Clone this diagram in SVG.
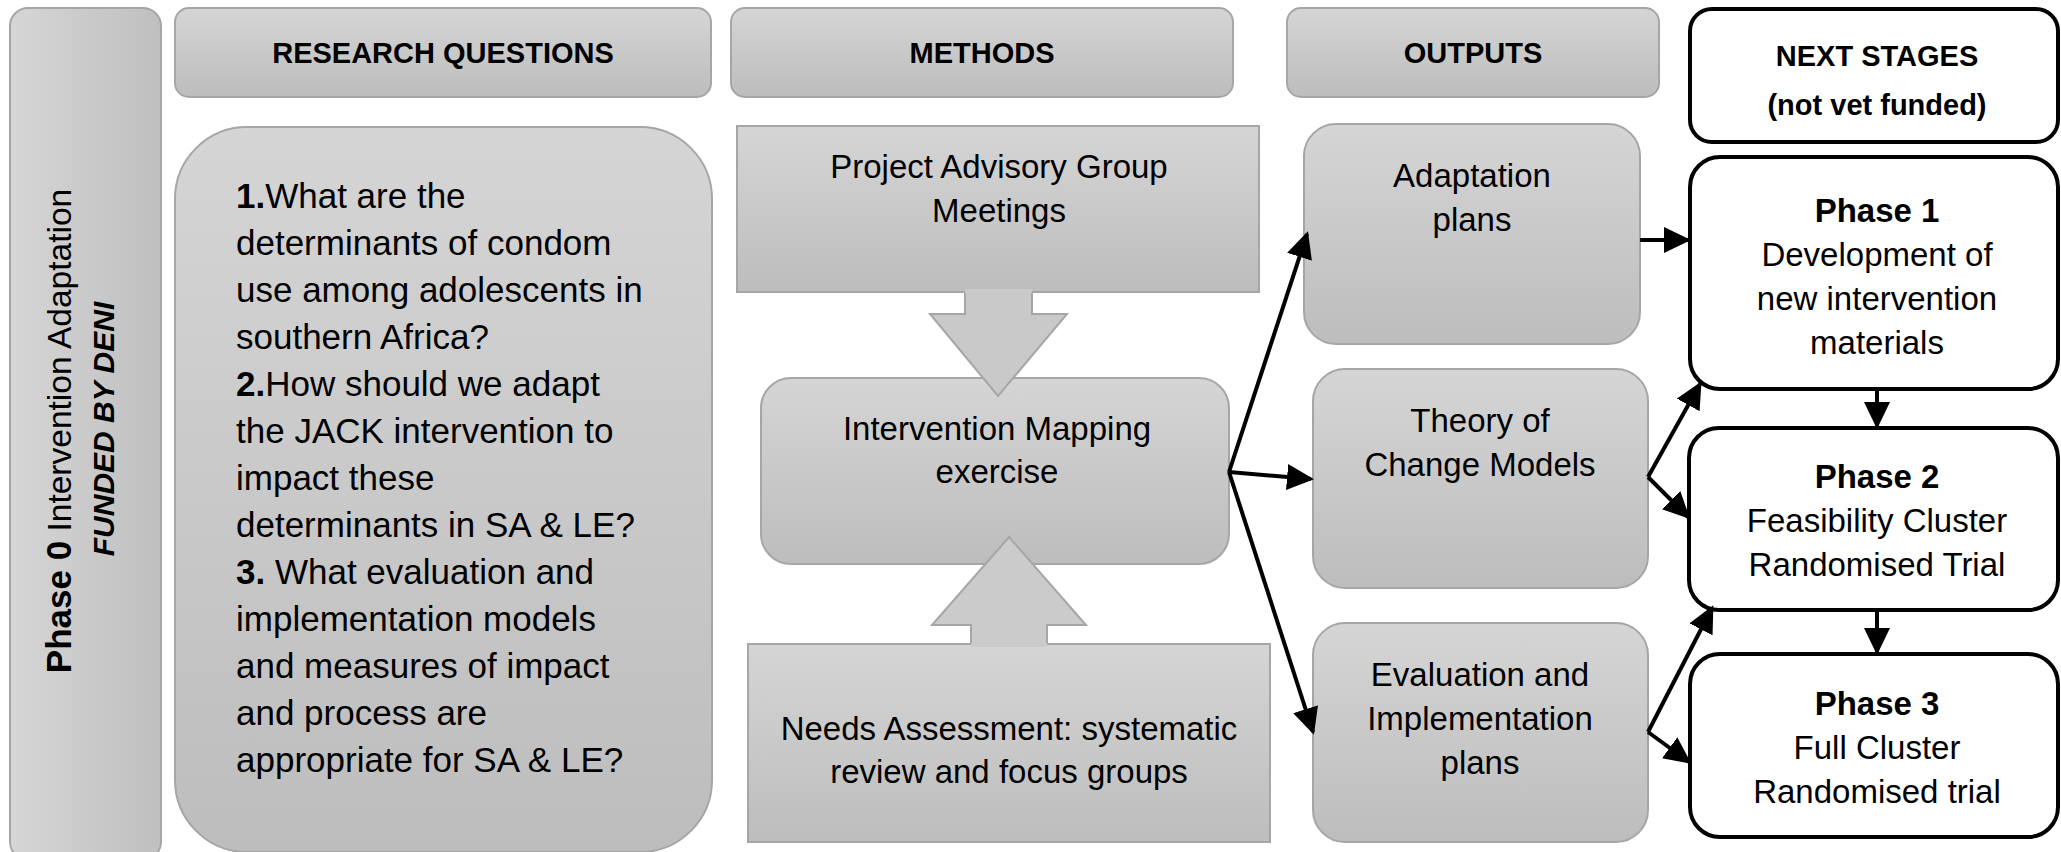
<svg xmlns="http://www.w3.org/2000/svg" width="2061" height="852" viewBox="0 0 2061 852">
<defs>
<linearGradient id="gV" x1="0" y1="0" x2="0" y2="1">
<stop offset="0" stop-color="#d5d5d5"/>
<stop offset="1" stop-color="#bdbdbd"/>
</linearGradient>
<linearGradient id="gH" x1="0" y1="0" x2="1" y2="0">
<stop offset="0" stop-color="#d6d6d6"/>
<stop offset="1" stop-color="#bfbfbf"/>
</linearGradient>
<marker id="ah" markerUnits="userSpaceOnUse" markerWidth="27" markerHeight="26" refX="24" refY="13" orient="auto">
<path d="M0,0 L27,13 L0,26 z" fill="#000"/>
</marker>
<style>
.g{fill:url(#gV);stroke:#a6a6a6;stroke-width:2}
.w{fill:#fff;stroke:#000;stroke-width:4}
.t{font-family:"Liberation Sans",Arial,sans-serif;font-size:33px;fill:#000;text-anchor:middle}
.h{font-family:"Liberation Sans",Arial,sans-serif;font-size:29px;font-weight:bold;fill:#000;text-anchor:middle}
.q{font-family:"Liberation Sans",Arial,sans-serif;font-size:35px;fill:#000}
.b{font-weight:bold}
.c{fill:none;stroke:#000;stroke-width:4;marker-end:url(#ah)}
</style>
</defs>
<rect width="2061" height="852" fill="#fff"/>

<g id="phase0">
<rect x="10" y="8" width="151" height="852" rx="18" fill="url(#gH)" stroke="#a6a6a6" stroke-width="2"/>
<text class="q" style="font-size:33.5px" transform="translate(71,431) rotate(-90)" text-anchor="middle"><tspan class="b" style="font-size:35px">Phase 0</tspan> Intervention Adaptation</text>
<text class="q" style="font-size:30px" transform="translate(114,429) rotate(-90)" text-anchor="middle" font-weight="bold" font-style="italic">FUNDED BY DENI</text>
</g>

<g id="hdr-rq">
<rect class="g" x="175" y="8" width="536" height="89" rx="14"/>
<text class="h" x="443" y="63">RESEARCH QUESTIONS</text>
</g>
<g id="hdr-methods">
<rect class="g" x="731" y="8" width="502" height="89" rx="14"/>
<text class="h" x="982" y="63">METHODS</text>
</g>
<g id="hdr-outputs">
<rect class="g" x="1287" y="8" width="372" height="89" rx="14"/>
<text class="h" x="1473" y="63">OUTPUTS</text>
</g>
<g id="hdr-next">
<rect class="w" x="1690" y="9" width="368" height="133" rx="22"/>
<text class="h" x="1877" y="66">NEXT STAGES</text>
<text class="h" x="1877" y="115">(not vet funded)</text>
</g>

<g id="rq">
<rect class="g" x="175" y="127" width="537" height="725" rx="72"/>
<text class="q" x="236"><tspan x="236" y="208"><tspan class="b">1.</tspan>What are the</tspan><tspan x="236" y="255">determinants of condom</tspan><tspan x="236" y="302">use among adolescents in</tspan><tspan x="236" y="349">southern Africa?</tspan><tspan x="236" y="396"><tspan class="b">2.</tspan>How should we adapt</tspan><tspan x="236" y="443">the JACK intervention to</tspan><tspan x="236" y="490">impact these</tspan><tspan x="236" y="537">determinants in SA &amp; LE?</tspan><tspan x="236" y="584"><tspan class="b">3.</tspan> What evaluation and</tspan><tspan x="236" y="631">implementation models</tspan><tspan x="236" y="678">and measures of impact</tspan><tspan x="236" y="725">and process are</tspan><tspan x="236" y="772">appropriate for SA &amp; LE?</tspan></text>
</g>

<g id="pag">
<rect x="737" y="126" width="522" height="166" fill="url(#gV)" stroke="#a6a6a6" stroke-width="2"/>
<text class="t" x="999" y="178">Project Advisory Group</text>
<text class="t" x="999" y="222">Meetings</text>
</g>

<g id="im">
<rect class="g" x="761" y="378" width="468" height="186" rx="30"/>
<text class="t" x="997" y="440">Intervention Mapping</text>
<text class="t" x="997" y="483">exercise</text>
</g>

<g id="needs">
<rect x="748" y="644" width="522" height="198" fill="url(#gV)" stroke="#a6a6a6" stroke-width="2"/>
<text class="t" x="1009" y="740">Needs Assessment: systematic</text>
<text class="t" x="1009" y="783">review and focus groups</text>
</g>

<g id="arrow-down">
<polygon points="965,289 1032,289 1032,314 1067,314 998,396 930,314 965,314" fill="#c9c9c9"/>
<polyline points="965,293 965,314 930,314 998,396 1067,314 1032,314 1032,293" fill="none" stroke="#a6a6a6" stroke-width="2"/>
</g>
<g id="arrow-up">
<polygon points="971,647 971,625 932,625 1009,537 1086,625 1047,625 1047,647" fill="#cbcbcb"/>
<polyline points="971,643 971,625 932,625 1009,537 1086,625 1047,625 1047,643" fill="none" stroke="#a6a6a6" stroke-width="2"/>
</g>

<g id="adapt">
<rect class="g" x="1304" y="124" width="336" height="220" rx="32"/>
<text class="t" x="1472" y="187">Adaptation</text>
<text class="t" x="1472" y="231">plans</text>
</g>
<g id="toc">
<rect class="g" x="1313" y="369" width="335" height="219" rx="32"/>
<text class="t" x="1480" y="432">Theory of</text>
<text class="t" x="1480" y="476">Change Models</text>
</g>
<g id="eval">
<rect class="g" x="1313" y="623" width="335" height="219" rx="32"/>
<text class="t" x="1480" y="686">Evaluation and</text>
<text class="t" x="1480" y="730">Implementation</text>
<text class="t" x="1480" y="774">plans</text>
</g>

<g id="p1">
<rect class="w" x="1690" y="157" width="368" height="232" rx="30"/>
<text class="t" x="1877" y="222" font-weight="bold">Phase 1</text>
<text class="t" x="1877" y="266">Development of</text>
<text class="t" x="1877" y="310">new intervention</text>
<text class="t" x="1877" y="354">materials</text>
</g>
<g id="p2">
<rect class="w" x="1689" y="428" width="369" height="182" rx="30"/>
<text class="t" x="1877" y="488" font-weight="bold">Phase 2</text>
<text class="t" x="1877" y="532">Feasibility Cluster</text>
<text class="t" x="1877" y="576">Randomised Trial</text>
</g>
<g id="p3">
<rect class="w" x="1690" y="654" width="368" height="183" rx="30"/>
<text class="t" x="1877" y="715" font-weight="bold">Phase 3</text>
<text class="t" x="1877" y="759">Full Cluster</text>
<text class="t" x="1877" y="803">Randomised trial</text>
</g>

<g id="connectors">
<line class="c" x1="1229" y1="472" x2="1307" y2="234"/>
<line class="c" x1="1229" y1="472" x2="1311" y2="479"/>
<line class="c" x1="1229" y1="472" x2="1313" y2="732"/>
<line class="c" x1="1640" y1="240" x2="1688" y2="240"/>
<line class="c" x1="1648" y1="477" x2="1700" y2="384"/>
<line class="c" x1="1648" y1="477" x2="1688" y2="517"/>
<line class="c" x1="1648" y1="732" x2="1712" y2="608"/>
<line class="c" x1="1648" y1="732" x2="1689" y2="762"/>
<line class="c" x1="1877" y1="389" x2="1877" y2="426"/>
<line class="c" x1="1877" y1="610" x2="1877" y2="652"/>
</g>
</svg>
